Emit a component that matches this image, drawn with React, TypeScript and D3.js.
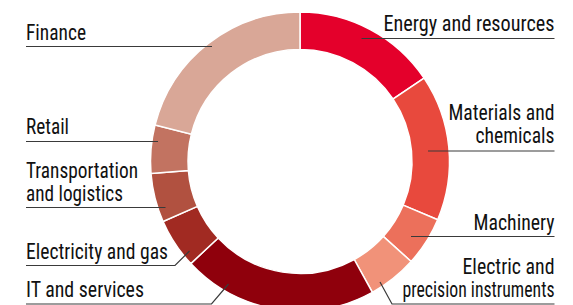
import React from 'react';
import * as d3 from 'd3';

const sectors = [
  'Energy and resources',
  'Materials and chemicals',
  'Machinery',
  'Electric and precision instruments',
  'IT and services',
  'Electricity and gas',
  'Transportation and logistics',
  'Retail',
  'Finance',
];
const shares = [15.6, 15.8, 5.3, 5.3, 21.1, 5.4, 5.3, 5.2, 21.1];
const colors = ['#e4002b', '#e8493d', '#ec705b', '#f19279', '#8f000c', '#a12a22', '#b15140', '#c27361', '#d9a797'];

// label rows as printed
const labelLines: string[][] = [
  ['Energy and resources'],
  ['Materials and', 'chemicals'],
  ['Machinery'],
  ['Electric and', 'precision instruments'],
  ['IT and services'],
  ['Electricity and gas'],
  ['Transportation', 'and logistics'],
  ['Retail'],
  ['Finance'],
];

// layout only: text row widths (condensed face), baselines, leader geometry
interface Layout { side: 'l' | 'r'; base: number; widths: number[]; under: number; tip: [number, number]; elbow?: number }
const layout: Layout[] = [
  { side: 'r', base: 31, widths: [171], under: 38.5, tip: [361.5, 38.5] },
  { side: 'r', base: 119.5, widths: [106, 79], under: 151, tip: [428, 151] },
  { side: 'r', base: 230, widths: [81], under: 236.5, tip: [411, 236.5] },
  { side: 'r', base: 273.5, widths: [92, 152], under: 304, tip: [380, 282], elbow: 392 },
  { side: 'l', base: 297, widths: [118], under: 304, tip: [228.5, 284], elbow: 211.5 },
  { side: 'l', base: 258.5, widths: [142], under: 265.5, tip: [189.5, 251], elbow: 175 },
  { side: 'l', base: 177.5, widths: [112, 97], under: 207.5, tip: [165.5, 207.5] },
  { side: 'l', base: 134, widths: [43], under: 141.5, tip: [158, 141.5] },
  { side: 'l', base: 39.5, widths: [60], under: 46.5, tip: [212, 46.5] },
];

const W = 573;
const H = 305;
const cx = 300;
const cy = 161.5;
const rOuter = 149.5;
const rInner = 112;
const leftX = 26;
const rightX = 554.5;
const lineGap = 23.5;
const font = '"Liberation Sans Narrow", "Roboto Condensed", "DejaVu Sans Condensed", sans-serif';

export default function App() {
  const pie = d3.pie<number>().sort(null).value(d => d)(shares);
  const arc = d3.arc<d3.PieArcDatum<number>>().innerRadius(rInner).outerRadius(rOuter);

  return (
    <svg width={W} height={H} style={{ position: 'absolute', left: 0, top: 0 }}>
      <g transform={`translate(${cx},${cy})`}>
        {pie.map((p, i) => (
          <path key={sectors[i]} d={arc(p) || ''} fill={colors[i]} stroke="#fff" strokeWidth={1.5} />
        ))}
      </g>
      {layout.map((l, i) => {
        const x0 = l.side === 'l' ? leftX : rightX;
        const pts: [number, number][] = [[x0, l.under]];
        if (l.elbow !== undefined) pts.push([l.elbow, l.under]);
        pts.push(l.tip);
        const line = d3.line()(pts) || '';
        return (
          <g key={sectors[i]}>
            <path d={line} fill="none" stroke="#3a3a3a" strokeWidth={1.2} />
            {labelLines[i].map((t, j) => {
              const w = l.widths[j];
              return (
                <text
                  key={j}
                  x={l.side === 'l' ? x0 : x0 - w}
                  y={l.base + j * lineGap}
                  textLength={w}
                  lengthAdjust="spacingAndGlyphs"
                  fontFamily={font}
                  fontSize={21.5}
                  fill="#111"
                >
                  {t}
                </text>
              );
            })}
          </g>
        );
      })}
    </svg>
  );
}
